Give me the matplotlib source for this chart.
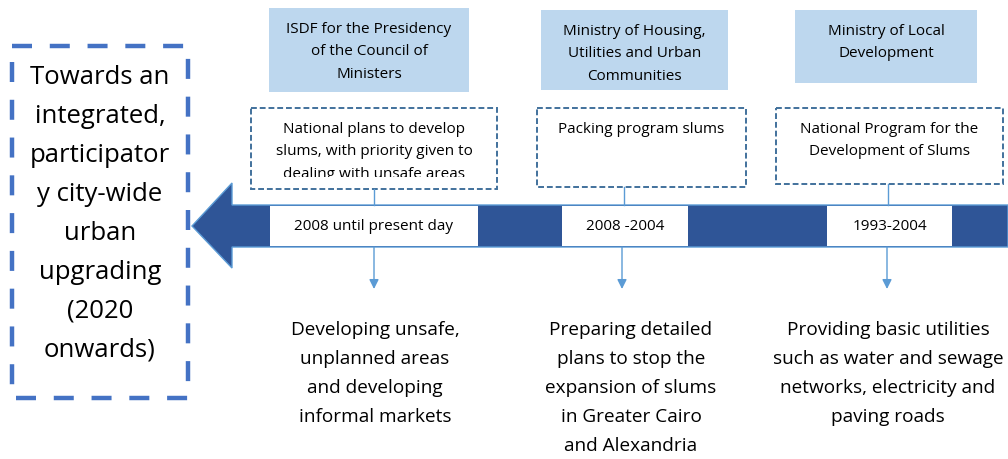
import matplotlib
matplotlib.use("Agg")
import matplotlib.pyplot as plt
from matplotlib.patches import Rectangle, Polygon

plt.rcParams['font.family'] = ['Open Sans', 'DejaVu Sans']

# content
goal_text = "Towards an\nintegrated,\nparticipator\ny city-wide\nurban\nupgrading\n(2020\nonwards)"
agencies = ["ISDF for the Presidency\nof the Council of\nMinisters",
            "Ministry of Housing,\nUtilities and Urban\nCommunities",
            "Ministry of Local\nDevelopment"]
programs = ["National plans to develop\nslums, with priority given to\ndealing with unsafe areas",
            "Packing program slums",
            "National Program for the\nDevelopment of Slums"]
periods = ["2008 until present day", "2008 -2004", "1993-2004"]
outcomes = ["Developing unsafe,\nunplanned areas\nand developing\ninformal markets",
            "Preparing detailed\nplans to stop the\nexpansion of slums\nin Greater Cairo\nand Alexandria",
            "Providing basic utilities\nsuch as water and sewage\nnetworks, electricity and\npaving roads"]

# layout (pixels, y goes down)
W, H = 1008, 459
agency_boxes = [(269, 8, 200, 84), (541, 10, 187, 80), (795, 10, 182, 73)]
program_boxes = [(251, 108, 246, 81), (537, 108, 209, 79), (776, 108, 227, 76)]
period_boxes = [(270, 206, 208, 40), (562, 206, 126, 40), (827, 206, 125, 40)]
link_x = [374, 624, 888]
down_x = [374, 622, 887]
outcome_x = [375, 631, 888]
band_top, band_bot = 205, 247

DARK = "#2F5597"
LIGHT = "#5B9BD5"
PALE = "#BDD7EE"
DASHC = "#41719C"

fig = plt.figure(figsize=(W / 100, H / 100), dpi=100)
ax = fig.add_axes([0, 0, 1, 1])
ax.set_xlim(0, W)
ax.set_ylim(H, 0)
ax.axis('off')

# big arrow pointing left
arrow = Polygon([(W, band_top), (232, band_top), (232, 183), (192, 226),
                 (232, 268), (232, band_bot), (W, band_bot)],
                closed=True, facecolor=DARK, edgecolor=LIGHT, lw=1)
ax.add_patch(arrow)

# left dashed goal box
ax.add_patch(Rectangle((12, 46), 176, 352, fill=False, edgecolor="#4472C4",
                       lw=3.2, linestyle=(0, (4.5, 4))))
ax.text(100, 214, goal_text, ha='center', va='center', fontsize=18.5,
        linespacing=1.73, color='black')

for i in range(3):
    x, y, w, h = agency_boxes[i]
    ax.add_patch(Rectangle((x, y), w, h, facecolor=PALE, edgecolor='none'))
    ax.text(x + w / 2, y + 14, agencies[i], ha='center', va='top', fontsize=11,
            linespacing=1.68)

    x, y, w, h = program_boxes[i]
    box = Rectangle((x, y), w, h, facecolor='white', edgecolor=DASHC,
                    lw=1.4, linestyle=(0, (3, 1.5)))
    ax.add_patch(box)
    # text in the first box is cut off by the box frame, as in the original
    clip = Rectangle((x, y), w, h - 12, transform=ax.transData)
    t = ax.text(x + w / 2, y + 14, programs[i], ha='center', va='top',
                fontsize=11, linespacing=1.68, clip_on=True)
    t.set_clip_path(clip)

    ax.plot([link_x[i], link_x[i]], [y + h, band_top], color=LIGHT, lw=1)

    x, y, w, h = period_boxes[i]
    ax.add_patch(Rectangle((x, y), w, h, facecolor='white', edgecolor='none'))
    ax.text(x + w / 2, y + h / 2, periods[i], ha='center', va='center', fontsize=11)

    ax.annotate('', xy=(down_x[i], 289), xytext=(down_x[i], band_bot),
                arrowprops=dict(arrowstyle='-|>', color=LIGHT, lw=1,
                                mutation_scale=14, shrinkA=0, shrinkB=0))

    ax.text(outcome_x[i], 321, outcomes[i], ha='center', va='top', fontsize=13.7,
            linespacing=1.78)

fig.savefig("out.png", dpi=100)
